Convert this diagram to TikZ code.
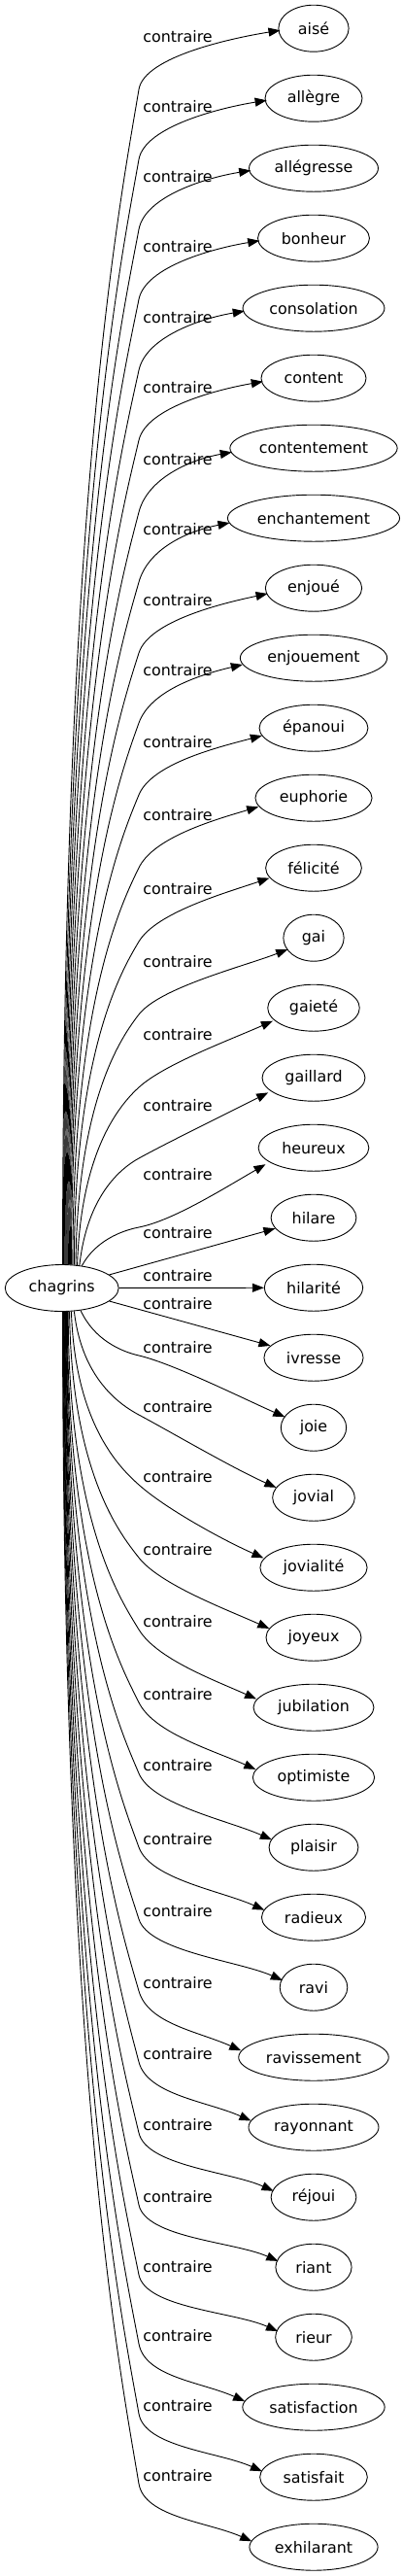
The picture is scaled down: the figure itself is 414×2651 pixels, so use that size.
\documentclass[tikz,border=0pt]{standalone}
\usepackage{fontspec}
\setmainfont{DejaVu Sans}
\usetikzlibrary{calc,arrows.meta,shapes.geometric}
\newsavebox\tbox
\newcommand\wbox[1]{\sbox\tbox{#1}\makebox[\dimexpr 0.884\wd\tbox+22.6pt\relax]{\usebox\tbox}}
\begin{document}
\begin{tikzpicture}[x=1pt,y=-1pt,
  tnode/.style={draw,ellipse,line width=0.9pt,minimum height=48pt,inner xsep=0pt,inner ysep=2pt,font=\fontsize{15.9pt}{18pt}\selectfont},
  lbl/.style={inner sep=0pt,font=\fontsize{15.9pt}{18pt}\selectfont},
  conn/.style={line width=0.9pt,-{Triangle[length=12pt,width=9pt]}}]
\useasboundingbox (0,0) rectangle (414,2651);
\node[tnode] (chag) at (63.7,1325.5) {\wbox{chagrins}};
\foreach \i/\nm/\txt in {0/aise/aisé,1/allegre/allègre,2/allegresse/allégresse,3/bonheur/bonheur,
  4/consolation/consolation,5/content/content,6/contentement/contentement,7/enchantement/enchantement,
  8/enjoue/enjoué,9/enjouement/enjouement,10/epanoui/épanoui,11/euphorie/euphorie,12/felicite/félicité,
  13/gai/gai,14/gaiete/gaieté,15/gaillard/gaillard,16/heureux/heureux,17/hilare/hilare,18/hilarite/hilarité,
  19/ivresse/ivresse,20/joie/joie,21/jovial/jovial,22/jovialite/jovialité,23/joyeux/joyeux,
  24/jubilation/jubilation,25/optimiste/optimiste,26/plaisir/plaisir,27/radieux/radieux,28/ravi/ravi,
  29/ravissement/ravissement,30/rayonnant/rayonnant,31/rejoui/réjoui,32/riant/riant,33/rieur/rieur,
  34/satisfaction/satisfaction,35/satisfait/satisfait,36/exhilarant/exhilarant}{
  \node[tnode] (\nm) at (323,{29.2+72*\i}) {\wbox{\txt}};
}
\foreach \i/\ly in {0/38,1/110,2/182,3/254,4/327,5/399,6/473,7/545,8/618,9/690,10/764,11/839,12/915,
  13/990,14/1065,15/1138,16/1209,17/1269,18/1313,19/1342,20/1387,21/1448,22/1520,23/1595,24/1669,
  25/1744,26/1817,27/1893,28/1967,29/2041,30/2114,31/2187,32/2261,33/2333,34/2404,35/2476,36/2548}{
  \node[lbl] (l\i) at (183,\ly) {contraire};
}
% upper edges
\foreach \i/\nm/\ly/\ang/\ax in {0/aise/38/88/0,1/allegre/110/86/0,2/allegresse/182/84/0,3/bonheur/254/82/0,
  4/consolation/327/80/0,5/content/399/78/0,6/contentement/473/76/0,7/enchantement/545/74/0,
  8/enjoue/618/72/0,9/enjouement/690/70/0,10/epanoui/764/68/0,11/euphorie/839/65/0,12/felicite/915/62/0,
  13/gai/990/59/2,14/gaiete/1065/56/4,15/gaillard/1138/52/8,16/heureux/1209/48/14}{
  \pgfmathsetmacro\Ky{\ly+54}
  \pgfmathsetmacro\dv{0.66*(1302-\Ky)}
  \pgfmathsetmacro\cyy{\Ky+0.09*(1302-\Ky)}
  \pgfmathsetmacro\slp{0.16+0.42*(\i/16)^3}
  \pgfmathsetmacro\tyy{2+15*(\i/16)^2}
  \pgfmathsetmacro\txx{2+0.02*\tyy*\tyy}
  \pgfmathsetmacro\cfy{45*\slp}
  \coordinate (k\i) at (143,\Ky);
  \coordinate (t\i) at ($(\nm.west)+(\txx,\tyy)$);
  \draw[conn] (chag.\ang) .. controls ($(chag.\ang)+(\ax,-\dv)$) and (125,\cyy) .. (k\i)
     .. controls ($(k\i)!-35pt!(125,\cyy)$) and ($(t\i)+(-45,\cfy)$) .. (t\i);
}
% middle edges
\draw[conn] (chag) -- (hilare);
\draw[conn] (chag) -- (hilarite);
\draw[conn] (chag) -- (ivresse);
% lower edges
\foreach \i/\nm/\ly/\ang/\ax in {20/joie/1387/-50/14,21/jovial/1448/-62/8,22/jovialite/1520/-68/4,
  23/joyeux/1595/-72/2,24/jubilation/1669/-75/0,25/optimiste/1744/-77/0,26/plaisir/1817/-78/0,
  27/radieux/1893/-79/0,28/ravi/1967/-80/0,29/ravissement/2041/-81/0,30/rayonnant/2114/-82/0,
  31/rejoui/2187/-83/0,32/riant/2261/-84/0,33/rieur/2333/-85/0,34/satisfaction/2404/-86/0,
  35/satisfait/2476/-87/0,36/exhilarant/2548/-88/0}{
  \pgfmathsetmacro\Ky{\ly+8}
  \pgfmathsetmacro\dv{0.66*(\Ky-1349)}
  \pgfmathsetmacro\cyy{\Ky-0.09*(\Ky-1349)}
  \pgfmathsetmacro\tyy{6+5*((36-\i)/16)^2}
  \pgfmathsetmacro\txx{2+0.02*\tyy*\tyy}
  \coordinate (k\i) at (143,\Ky);
  \coordinate (t\i) at ($(\nm.west)+(\txx,-\tyy)$);
  \draw[conn] (chag.\ang) .. controls ($(chag.\ang)+(\ax,\dv)$) and (125,\cyy) .. (k\i)
     .. controls ($(k\i)!-35pt!(125,\cyy)$) and ($(t\i)+(-45,-20)$) .. (t\i);
}
\end{tikzpicture}
\end{document}
